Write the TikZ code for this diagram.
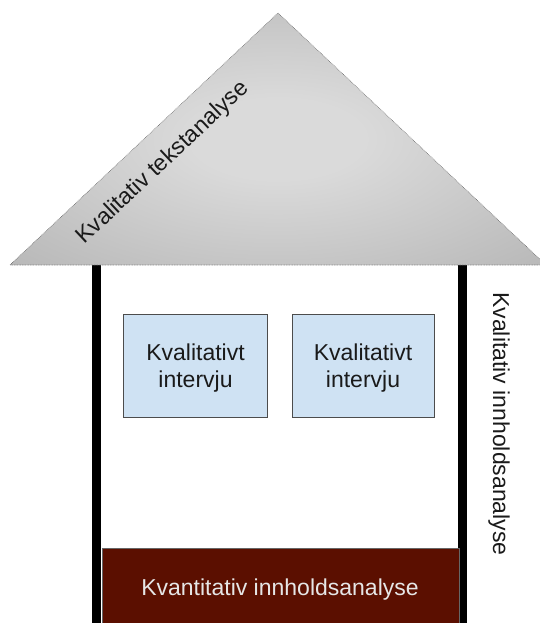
\documentclass[tikz,border=0pt]{standalone}
\usepackage{fontspec}
\setmainfont{Liberation Sans}
\definecolor{roofin}{HTML}{DADADA}
\definecolor{roofout}{HTML}{A0A0A0}
\definecolor{boxblue}{HTML}{CFE2F3}
\definecolor{berry}{HTML}{5B0F00}
\definecolor{lighttext}{HTML}{E6E6E6}
\definecolor{txt}{HTML}{1A1A1A}
\pgfdeclareradialshading{roofshade}{\pgfpoint{0bp}{0bp}}{color(0bp)=(roofin); color(8bp)=(roofin); color(55bp)=(roofout); color(80bp)=(roofout)}
\tikzset{
  wall/.style={fill=black, draw=none},
  window/.style={draw=black!70, fill=boxblue, line width=0.8pt},
  lbl/.style={font=\fontsize{23}{27}\selectfont, text=txt, align=center, inner sep=0pt},
}
\begin{document}
\begin{tikzpicture}[x=1pt,y=-1pt]
\useasboundingbox (0,0) rectangle (540,623);
\fill[white] (0,0) rectangle (540,623);
% walls
\fill[wall] (92,265) rectangle (101,623);
\fill[wall] (458,265) rectangle (467,623);
% bottom floor
\node[fill=berry, draw=black!60, line width=0.5pt, minimum width=357pt, minimum height=75pt, inner sep=0pt, anchor=north west] (floor) at (101.5,548) {};
\node[lbl, text=lighttext] (floortxt) at (280,590) {Kvantitativ innholdsanalyse};
% windows
\node[window, minimum width=144pt, minimum height=103pt, inner sep=0pt] (w1) at (195.5,365.5) {};
\node[lbl] (w1t) at (195.5,368) {Kvalitativt\\intervju};
\node[window, minimum width=142pt, minimum height=103pt, inner sep=0pt] (w2) at (363,365.5) {};
\node[lbl] (w2t) at (363,368) {Kvalitativt\\intervju};
% roof
\begin{scope}
\clip (0,0) rectangle (540,623);
\path[shading=roofshade, draw=black!60, densely dotted, line width=0.6pt] (278,13) coordinate (apex) -- (546,265) coordinate (rbase) -- (10,265) coordinate (lbase) -- cycle;
\end{scope}
\node[lbl, rotate=43.2] (rooftxt) at (163,163) {Kvalitativ tekstanalyse};
% side label
\node[lbl, rotate=-90] (side) at (499,424) {Kvalitativ innholdsanalyse};
\end{tikzpicture}
\end{document}
